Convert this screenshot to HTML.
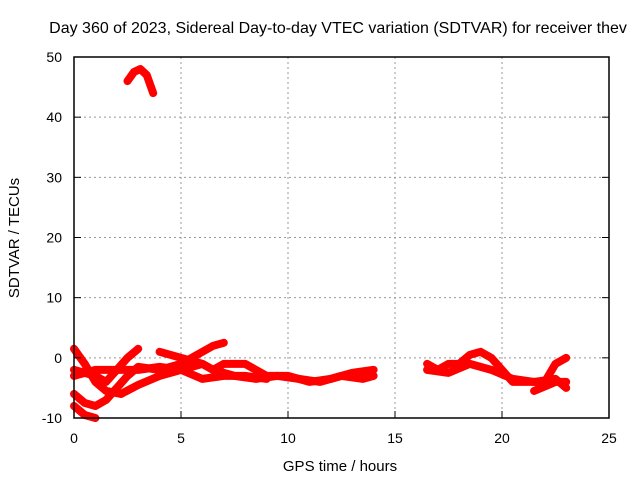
<!DOCTYPE html>
<html><head><meta charset="utf-8"><style>
body{margin:0;background:#fff;}
svg{display:block;font-family:"Liberation Sans",sans-serif;}
</style></head><body>
<svg id="c" width="640" height="480">
<text x="338" y="33" font-size="16" text-anchor="middle">Day 360 of 2023, Sidereal Day-to-day VTEC variation (SDTVAR) for receiver thev</text>
<text x="340" y="471" font-size="15" text-anchor="middle">GPS time / hours</text>
<text transform="translate(19,238) rotate(-90)" font-size="15" text-anchor="middle">SDTVAR / TECUs</text>
<g id="grid"></g><g id="series"></g>
<rect x="74" y="57" width="535" height="361" fill="none" stroke="#000" stroke-width="1.5"/>
<g id="ticks"></g>
</svg>
<script>
const xTicks=[0,5,10,15,20,25];
const yTicks=[-10,0,10,20,30,40,50];
const trackTop=[[2.5,46],[2.8,47.5],[3.1,48],[3.4,47],[3.7,44]];
const track1=[[0,1.5],[0.5,-1],[1,-4],[1.5,-5.5],[2.2,-6],[3,-4.5],[4,-3],[5,-2],[6,-1],[6.5,-2],[7.5,-3],[8.5,-3.5],[9.5,-3],[10.5,-3.5],[11.5,-4],[12.5,-3],[13.5,-3.5],[14,-3]];
const track2=[[0,-2],[0.5,-2.5],[1,-3],[1.5,-4],[2,-2],[2.5,0],[3,1.5]];
const track3=[[0,-6],[0.5,-7.5],[1,-8],[1.5,-7],[2,-5],[2.5,-3],[3,-1.5],[4,-2],[5,-1],[6,1],[6.5,2],[7,2.5]];
const track4=[[0,-8],[0.5,-9.5],[1,-10]];
const track5=[[0,-3],[1,-2],[2,-2],[3,-2],[4,-1.5],[5,-2],[6,-3.5],[7,-3],[8,-3],[9,-3.5]];
const track6=[[4,1],[5,0],[6,-1],[6.5,-2],[7,-1],[8,-1],[9,-3],[10,-3],[11,-4],[12,-3.5],[13,-2.5],[14,-2]];
const track7=[[16.5,-1],[17,-2],[17.5,-1],[18,-1],[18.5,0.5],[19,1],[19.5,0],[20,-2],[20.5,-4],[21,-4],[22,-4],[22.5,-1],[23,0]];
const track8=[[16.5,-2],[17.5,-2.5],[18.5,-1],[19.5,-2],[20.5,-3.5],[21.5,-4],[22.5,-3.5],[23,-5]];
const track9=[[21.5,-5.5],[22.5,-4],[23,-4]];
const tracks=[trackTop,track1,track2,track3,track4,track5,track6,track7,track8,track9];
const X=v=>74+v/25*535, Y=v=>418-(v+10)/60*361;
const NS="http://www.w3.org/2000/svg";
const g=document.getElementById('grid'),t=document.getElementById('ticks'),s=document.getElementById('series');
function mk(tag,a,p){const e=document.createElementNS(NS,tag);for(const k in a)e.setAttribute(k,a[k]);p.appendChild(e);return e;}
xTicks.forEach(v=>{
 if(v>0&&v<25){const l=mk('line',{x1:X(v),x2:X(v),y1:57,y2:418,stroke:'#999','stroke-dasharray':'2,3'},g);
 
 }
 mk('line',{x1:X(v),x2:X(v),y1:418,y2:411,stroke:'#000'},t);
 const tx=mk('text',{x:X(v),y:443,'font-size':14,'text-anchor':'middle'},t);tx.textContent=v;
 
 
});
yTicks.forEach(v=>{
 if(v>-10&&v<50){const l=mk('line',{x1:74,x2:609,y1:Y(v),y2:Y(v),stroke:'#999','stroke-dasharray':'2,3'},g);
 
 }
 mk('line',{x1:74,x2:81,y1:Y(v),y2:Y(v),stroke:'#000'},t);
 mk('line',{x1:609,x2:602,y1:Y(v),y2:Y(v),stroke:'#000'},t);
 const tx=mk('text',{x:62,y:Y(v)+5,'font-size':14,'text-anchor':'end'},t);tx.textContent=v;
 
 
});
tracks.forEach(tr=>{
 const p=mk('polyline',{points:tr.map(d=>X(d[0])+','+Y(d[1])).join(' '),fill:'none',stroke:'#f00','stroke-width':8,'stroke-linejoin':'round','stroke-linecap':'round'},s);
 
 
});
</script>
</body></html>
